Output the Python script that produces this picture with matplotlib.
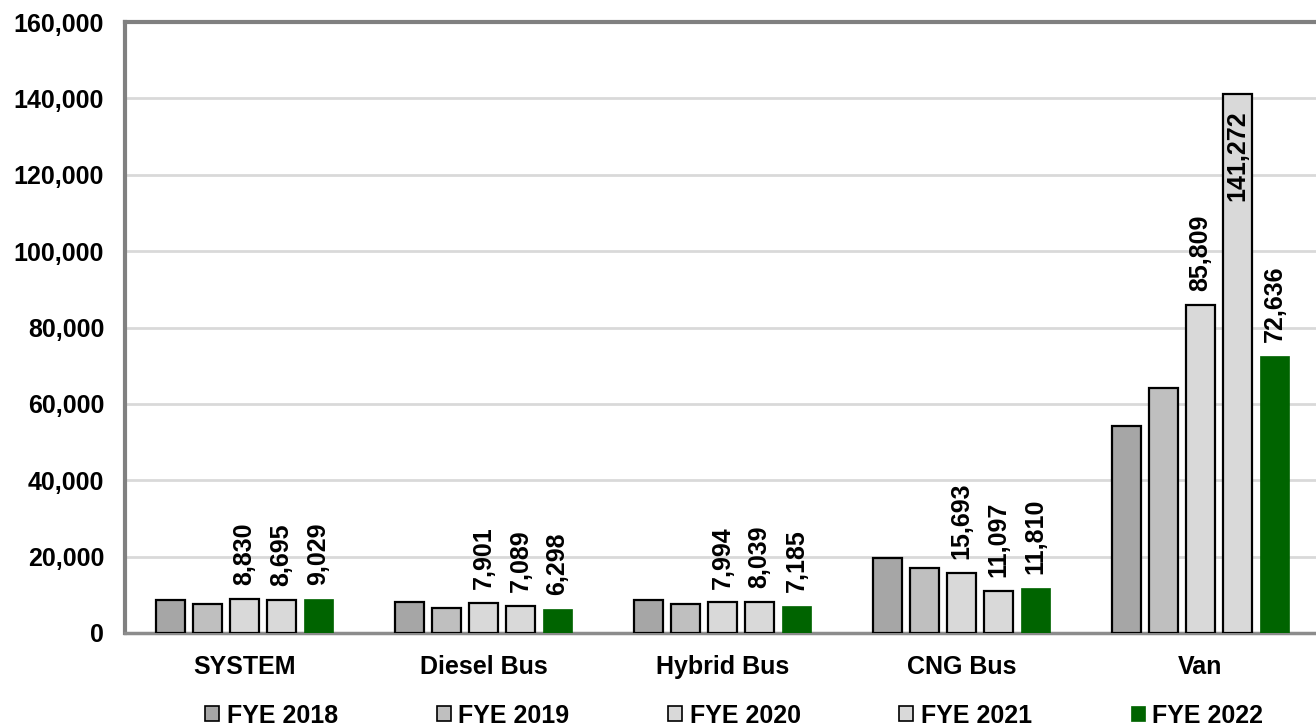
import matplotlib
matplotlib.use("Agg")
import matplotlib.pyplot as plt
from matplotlib.patches import Patch
from matplotlib.ticker import FuncFormatter
import numpy as np

plt.rcParams['font.family'] = ['Liberation Sans', 'DejaVu Sans']
plt.rcParams['font.weight'] = 'bold'

categories = ["SYSTEM", "Diesel Bus", "Hybrid Bus", "CNG Bus", "Van"]
series_names = ["FYE 2018", "FYE 2019", "FYE 2020", "FYE 2021", "FYE 2022"]
fye2018 = [8640, 8100, 8600, 19600, 54100]
fye2019 = [7600, 6500, 7600, 17000, 64100]
fye2020 = [8830, 7901, 7994, 15693, 85809]
fye2021 = [8695, 7089, 8039, 11097, 141272]
fye2022 = [9029, 6298, 7185, 11810, 72636]
series = [fye2018, fye2019, fye2020, fye2021, fye2022]
labeled = [False, False, True, True, True]
colors = ["#A6A6A6", "#BFBFBF", "#D9D9D9", "#D9D9D9", "#006400"]
edges = ["black", "black", "black", "black", "#006400"]

fig = plt.figure(figsize=(13.16, 7.25), dpi=100)
ax = fig.add_axes([125/1316, 1-633/725, 1-125/1316+0.003, (633-22)/725])

x = np.arange(len(categories))
pitch = 0.155
width = 0.12
for i, vals in enumerate(series):
    xs = x + (i - 2) * pitch
    bars = ax.bar(xs, vals, width=width, color=colors[i], edgecolor=edges[i],
                  linewidth=1.6 if i < 4 else 0.5, zorder=3, label=series_names[i])
    if labeled[i]:
        for xi, v in zip(xs, vals):
            txt = f"{v:,}"
            if v > 120000:
                ax.annotate(txt, (xi, v), xytext=(0, -12), textcoords="offset points",
                            rotation=90, ha="center", va="top", fontsize=18,
                            fontweight="bold", zorder=4)
            else:
                ax.annotate(txt, (xi, v), xytext=(0, 10), textcoords="offset points",
                            rotation=90, ha="center", va="bottom", fontsize=18,
                            fontweight="bold", zorder=4)

ax.set_xlim(-0.5, 4.5)
ax.set_ylim(0, 160000)
ax.set_yticks(np.arange(0, 160001, 20000))
ax.yaxis.set_major_formatter(FuncFormatter(lambda v, p: f"{int(v):,}"))
ax.set_xticks(x)
ax.set_xticklabels(categories)
ax.tick_params(axis="both", length=0, labelsize=18)
ax.tick_params(axis="x", pad=16)
ax.tick_params(axis="y", pad=15)
for lab in ax.get_xticklabels() + ax.get_yticklabels():
    lab.set_fontweight("bold")

ax.grid(axis="y", color="#D9D9D9", linewidth=2, zorder=0)
ax.set_axisbelow(True)
for s in ["left", "top", "right"]:
    ax.spines[s].set_color("#808080")
    ax.spines[s].set_linewidth(3)
ax.spines["bottom"].set_color("#8C8C8C")
ax.spines["bottom"].set_linewidth(2.5)

handles = [Patch(facecolor=colors[i], edgecolor=edges[i], linewidth=1.2 if i < 4 else 0.5)
           for i in range(5)]
fig.legend(handles, series_names, loc="center", bbox_to_anchor=(0.558, 0.013),
           ncol=5, frameon=False, prop={"size": 18, "weight": "bold"},
           handlelength=0.56, handleheight=0.56, handletextpad=0.3, columnspacing=3.95)

fig.savefig("out.png", dpi=100)
